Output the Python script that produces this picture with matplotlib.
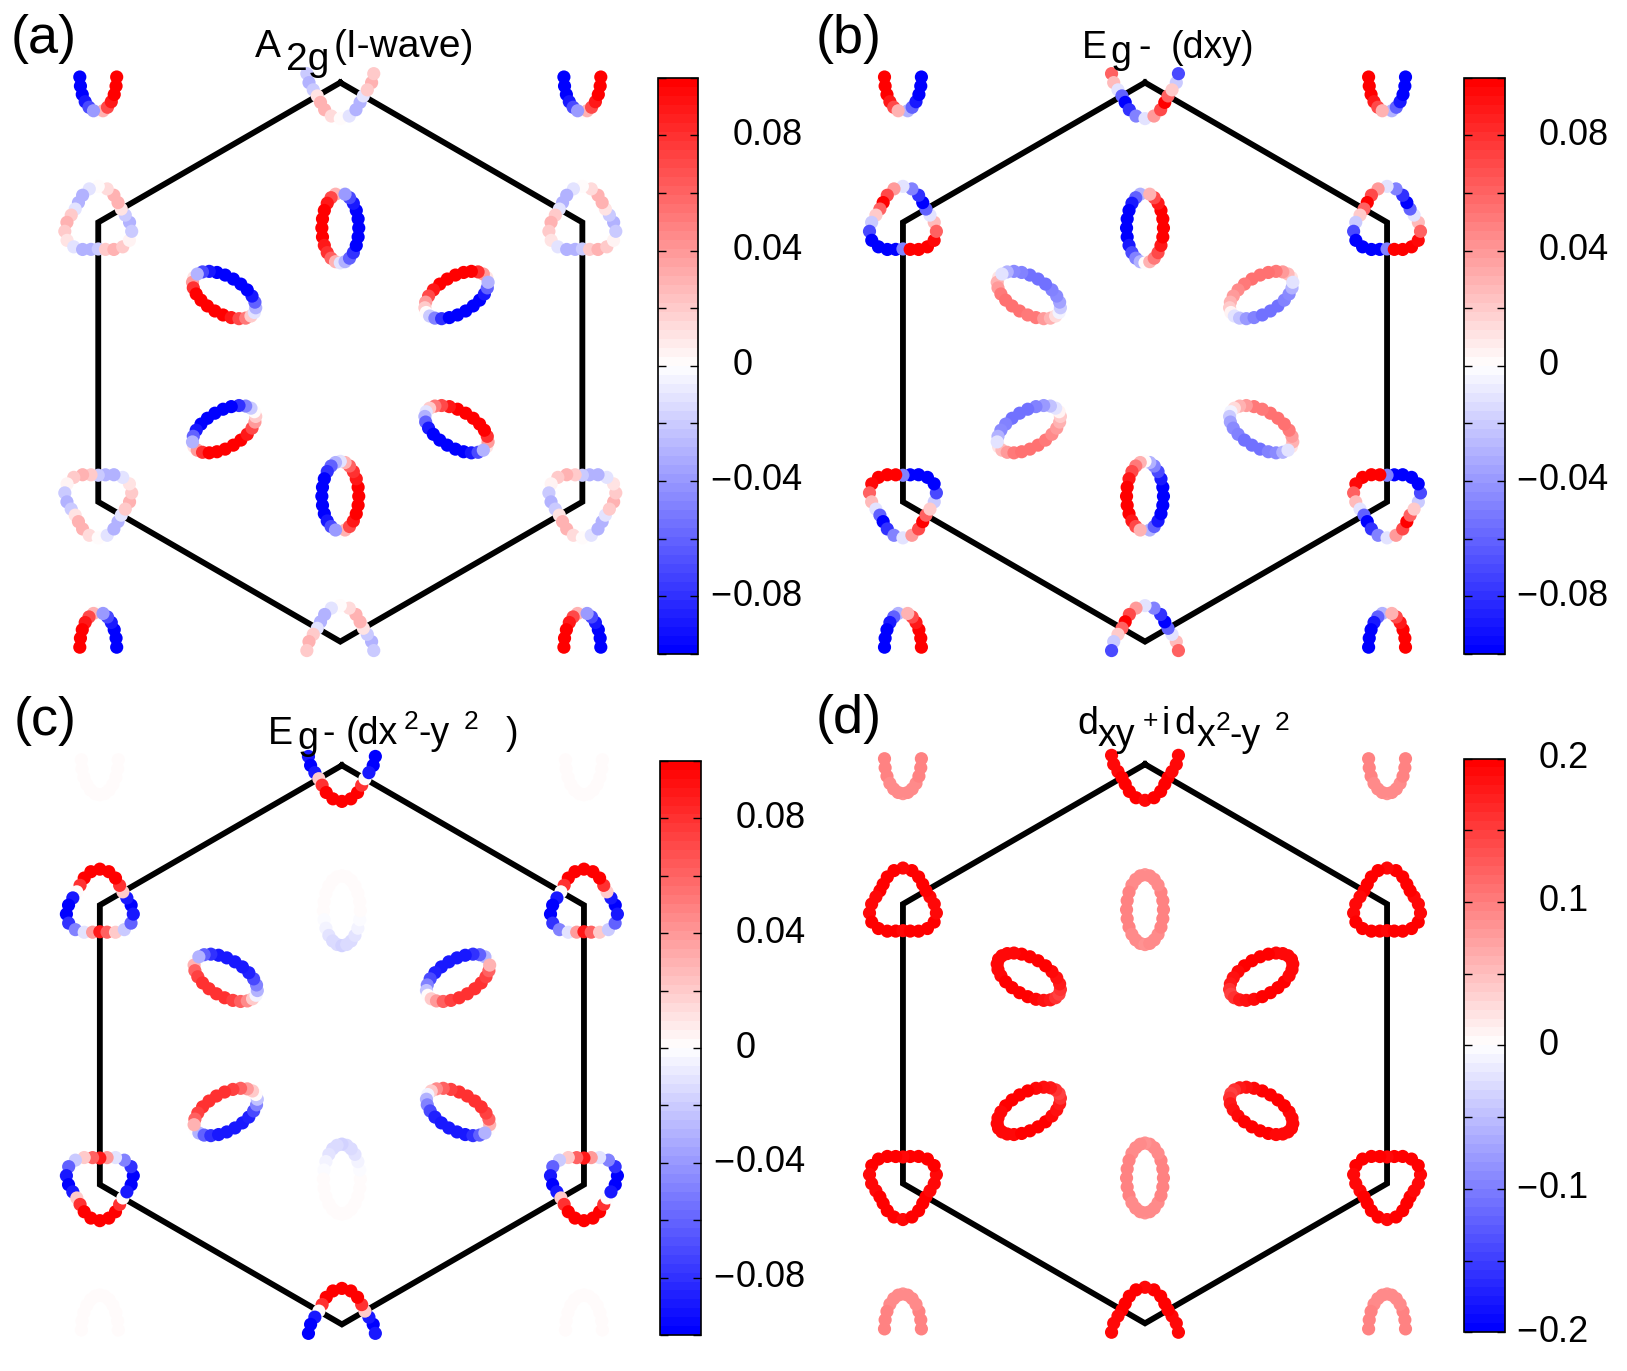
import numpy as np
import matplotlib
matplotlib.use("Agg")
import matplotlib.pyplot as plt
from matplotlib.colors import LinearSegmentedColormap, Normalize
from matplotlib.cm import ScalarMappable

plt.rcParams['font.family'] = ['Liberation Sans', 'DejaVu Sans']

# ---------------- data (gap values read along each pocket, every 15 deg) ----------------
sample_deg = list(range(0, 360, 15))

# panel (a) A2g
a_ell90 = [0.0, 0.03, 0.07, 0.09, 0.1, 0.1, 0.1, 0.1, 0.09, 0.08, 0.06, 0.03,
           -0.01, -0.03, -0.06, -0.08, -0.1, -0.1, -0.1, -0.1, -0.1, -0.09, -0.07, -0.04]
a_ell150 = [0.01, 0.04, 0.08, 0.1, 0.1, 0.1, 0.1, 0.1, 0.09, 0.07, 0.05, 0.02,
            -0.01, -0.03, -0.06, -0.09, -0.1, -0.1, -0.1, -0.1, -0.1, -0.09, -0.07, -0.03]
a_ell30 = [0.01, 0.04, 0.08, 0.1, 0.1, 0.1, 0.1, 0.1, 0.09, 0.07, 0.04, 0.02,
           0.0, -0.02, -0.05, -0.08, -0.1, -0.1, -0.1, -0.1, -0.1, -0.09, -0.06, -0.03]
a_kpocket = [-0.03, -0.02, 0.01, 0.03, 0.03, 0.015, 0.0, -0.01, -0.03, -0.03, -0.01, 0.02,
             0.03, 0.02, 0.01, -0.01, -0.03, -0.03, -0.02, 0.02, 0.03, 0.02, 0.005, -0.02]

# panel (b) Eg (dxy)
b_ell90 = [0.0, -0.03, -0.06, -0.09, -0.1, -0.1, -0.1, -0.1, -0.09, -0.07, -0.05, -0.03,
           0.0, 0.03, 0.05, 0.07, 0.09, 0.1, 0.1, 0.1, 0.1, 0.09, 0.07, 0.03]
b_ell150 = [0.01, 0.03, 0.04, 0.05, 0.055, 0.055, 0.055, 0.05, 0.05, 0.04, 0.03, 0.015,
            -0.005, -0.02, -0.035, -0.045, -0.05, -0.055, -0.055, -0.055, -0.05, -0.045, -0.03, -0.01]
b_ell30 = [0.01, 0.025, 0.04, 0.05, 0.055, 0.055, 0.055, 0.05, 0.045, 0.04, 0.03, 0.02,
           0.005, -0.01, -0.025, -0.04, -0.05, -0.055, -0.055, -0.055, -0.05, -0.045, -0.03, -0.01]
b_kpocket = [0.025, -0.01, -0.06, -0.1, -0.08, -0.05, -0.01, 0.04, 0.07, 0.1, 0.06, 0.02,
             -0.02, -0.07, -0.1, -0.1, -0.1, -0.1, -0.05, 0.1, 0.1, 0.1, 0.095, 0.06]

# panel (c) Eg (dx2-y2)
c_ell90 = [0.003, 0.003, 0.003, 0.003, 0.003, 0.002, 0.0, -0.003, -0.006, -0.01, -0.013, -0.015,
           -0.016, -0.015, -0.013, -0.01, -0.006, -0.003, 0.0, 0.002, 0.003, 0.003, 0.003, 0.003]
c_ell150 = [0.0, 0.03, 0.06, 0.075, 0.08, 0.08, 0.08, 0.08, 0.075, 0.06, 0.045, 0.02,
            -0.005, -0.03, -0.05, -0.07, -0.085, -0.09, -0.09, -0.09, -0.09, -0.08, -0.06, -0.03]
c_ell30 = [0.0, -0.03, -0.06, -0.08, -0.09, -0.09, -0.09, -0.09, -0.085, -0.07, -0.05, -0.025,
           0.0, 0.02, 0.04, 0.06, 0.075, 0.08, 0.08, 0.08, 0.08, 0.075, 0.06, 0.03]
c_kpocket = [-0.1, -0.09, 0.02, 0.08, 0.1, 0.1, 0.1, 0.1, 0.1, 0.08, 0.0, -0.09,
             -0.1, -0.1, -0.08, -0.05, -0.01, 0.04, 0.09, 0.06, 0.02, -0.02, -0.06, -0.09]

# panel (d) dxy + i dx2-y2
d_ell90 = [0.085, 0.088, 0.09, 0.092, 0.094, 0.095, 0.095, 0.095, 0.094, 0.092, 0.09, 0.088,
           0.086, 0.088, 0.09, 0.092, 0.094, 0.095, 0.095, 0.095, 0.094, 0.092, 0.09, 0.088]
d_ell150 = [0.19, 0.19, 0.19, 0.19, 0.195, 0.195, 0.195, 0.195, 0.19, 0.185, 0.175, 0.16,
            0.15, 0.16, 0.175, 0.185, 0.19, 0.195, 0.195, 0.195, 0.195, 0.19, 0.19, 0.19]
d_ell30 = [0.19, 0.19, 0.19, 0.19, 0.195, 0.195, 0.195, 0.195, 0.19, 0.185, 0.175, 0.16,
           0.15, 0.16, 0.175, 0.185, 0.19, 0.195, 0.195, 0.195, 0.195, 0.19, 0.19, 0.19]
d_kpocket = [0.19, 0.19, 0.195, 0.2, 0.2, 0.195, 0.19, 0.195, 0.2, 0.2, 0.195, 0.19,
             0.19, 0.19, 0.195, 0.2, 0.2, 0.195, 0.19, 0.195, 0.2, 0.2, 0.195, 0.19]

panel_labels = ["(a)", "(b)", "(c)", "(d)"]
color_limits = [0.1, 0.1, 0.1, 0.2]
cbar_tick_step = [0.02, 0.02, 0.02, 0.05]
cbar_labels = [[0.08, 0.04, 0, -0.04, -0.08],
               [0.08, 0.04, 0, -0.04, -0.08],
               [0.08, 0.04, 0, -0.04, -0.08],
               [0.2, 0.1, 0, -0.1, -0.2]]

# ---------------- geometry (units of Gamma-K distance) ----------------
ELL_D, ELL_A, ELL_B = 0.48, 0.125, 0.066
K_R0, K_AS = 0.112, 0.15
YCLIP, XCLIP = 1.035, 1.06

W, H, DPI = 1627, 1371, 100
S = 1627 / 1568.0
R_PX = 279.5
LIM = 1.15

fig = plt.figure(figsize=(W / DPI, H / DPI), dpi=DPI)
cmap = LinearSegmentedColormap.from_list('bwr_m', [(0, 0, 1), (1, 1, 1), (1, 0, 0)], N=64)

ang = np.deg2rad(np.array(sample_deg, dtype=float))
b1 = np.array([np.sqrt(3), 0.0])
b2 = np.array([np.sqrt(3) / 2, 1.5])


def pocket_points(e90, e150, e30, kv):
    xs, ys, cs = [], [], []
    ell_set = [(90, e90), (150, e150), (30, e30), (270, e90), (330, e150), (210, e30)]
    kv = np.asarray(kv)
    kprime = np.roll(kv, len(kv) // 2)
    for n1 in range(-2, 3):
        for n2 in range(-2, 3):
            T = n1 * b1 + n2 * b2
            for d, vals in ell_set:
                th = np.deg2rad(d)
                ur = np.array([np.cos(th), np.sin(th)])
                up = np.array([-np.sin(th), np.cos(th)])
                c = T + ELL_D * ur
                px = c[0] + ELL_A * np.cos(ang) * ur[0] + ELL_B * np.sin(ang) * up[0]
                py = c[1] + ELL_A * np.cos(ang) * ur[1] + ELL_B * np.sin(ang) * up[1]
                xs.append(px); ys.append(py); cs.append(np.asarray(vals))
            # K pocket at 150 deg corner (pointing up), K' at 210 deg corner (pointing down)
            for cdeg, vals, sgn in [(150, kv, 1.0), (210, kprime, -1.0)]:
                th = np.deg2rad(cdeg)
                c = T + np.array([np.cos(th), np.sin(th)])
                r = K_R0 * (1 + sgn * K_AS * np.cos(3 * (ang - np.pi / 2)))
                xs.append(c[0] + r * np.cos(ang)); ys.append(c[1] + r * np.sin(ang)); cs.append(vals)
    x = np.concatenate(xs); y = np.concatenate(ys); c = np.concatenate(cs)
    keep = (np.abs(x) <= XCLIP) & (np.abs(y) <= YCLIP)
    return x[keep], y[keep], c[keep]


panel_data = [(a_ell90, a_ell150, a_ell30, a_kpocket),
              (b_ell90, b_ell150, b_ell30, b_kpocket),
              (c_ell90, c_ell150, c_ell30, c_kpocket),
              (d_ell90, d_ell150, d_ell30, d_kpocket)]

centers = [(340.3, 362.1), (1145.0, 362.1), (341.9, 1044.9), (1145.0, 1043.8)]
cbar_px = [(657.8, 77.8, 698.3, 653.7), (1464.1, 77.8, 1504.5, 653.7),
           (660.0, 760.6, 701.4, 1335.4), (1464.1, 758.5, 1504.5, 1332.3)]

hex_ang = np.deg2rad(np.arange(90, 451, 60))

for p in range(4):
    cx, cy = centers[p]
    ax = fig.add_axes([(cx - LIM * R_PX) / W, 1 - (cy + LIM * R_PX) / H,
                       2 * LIM * R_PX / W, 2 * LIM * R_PX / H])
    ax.set_xlim(-LIM, LIM); ax.set_ylim(-LIM, LIM)
    ax.axis('off')
    ax.plot(np.cos(hex_ang), np.sin(hex_ang), color='black', lw=4.2, zorder=1,
            solid_joinstyle='miter')
    vm = color_limits[p]
    x, y, c = pocket_points(*panel_data[p])
    ax.scatter(x, y, c=c, cmap=cmap, vmin=-vm, vmax=vm, s=90, edgecolors='none',
               zorder=2, clip_on=False)

    # colorbar
    x0, y0, x1, y1 = cbar_px[p]
    cax = fig.add_axes([x0 / W, 1 - y1 / H, (x1 - x0) / W, (y1 - y0) / H])
    sm = ScalarMappable(norm=Normalize(-vm, vm), cmap=cmap)
    cb = fig.colorbar(sm, cax=cax)
    st = cbar_tick_step[p]
    nt = int(round(vm / st))
    cb.set_ticks([k * st for k in range(-nt, nt + 1)])
    cax.tick_params(direction='in', length=6, width=1, left=True, right=True,
                    labelleft=False, labelright=False)
    cb.outline.set_linewidth(1.2)
    for v in cbar_labels[p]:
        ypx = y0 + (vm - v) / (2 * vm) * (y1 - y0)
        xt = x1 + 34
        digits = ('%g' % abs(v))
        fig.text(xt / W, 1 - ypx / H, digits, fontsize=26, ha='left', va='center')
        if v < 0:
            fig.text((xt - 1) / W, 1 - ypx / H, '\u2212', fontsize=26, ha='right', va='center')


def txt(xs, ys, s, size=27, va='baseline'):
    fig.text(xs * S / W, 1 - ys * S / H, s, fontsize=size, ha='left', va=va)


# panel labels
for lab, (lx, ly) in zip(panel_labels, [(10, 38), (786, 38), (13, 695), (786, 693)]):
    txt(lx, ly, lab, size=39, va='center')

# titles
title_parts = [
    [("A", 246, 55, 28), ("2g", 276, 67, 28), ("(I-wave)", 322, 55, 28)],
    [("E", 1043, 56, 27), ("g", 1070, 61, 27), ("-", 1097, 56, 27), ("(dxy)", 1128, 56, 27)],
    [("E", 258, 717, 27), ("g", 287, 722, 27), ("-", 311, 717, 27), ("(dx", 333, 717, 27),
     ("2", 389, 703, 19), ("-y", 403, 717, 27), ("2", 447, 703, 19), (")", 487, 717, 27)],
    [("d", 1038, 707, 27), ("xy", 1058, 719, 27), ("+", 1101, 702, 19), ("i", 1119, 707, 27),
     ("d", 1132, 707, 27), ("x", 1153, 719, 27), ("2", 1172, 704, 19), ("-y", 1185, 719, 27),
     ("2", 1228, 704, 19)],
]
for parts in title_parts:
    for s, xs, ys, sz in parts:
        txt(xs, ys, s, size=sz)

fig.savefig('out.png', dpi=DPI)
